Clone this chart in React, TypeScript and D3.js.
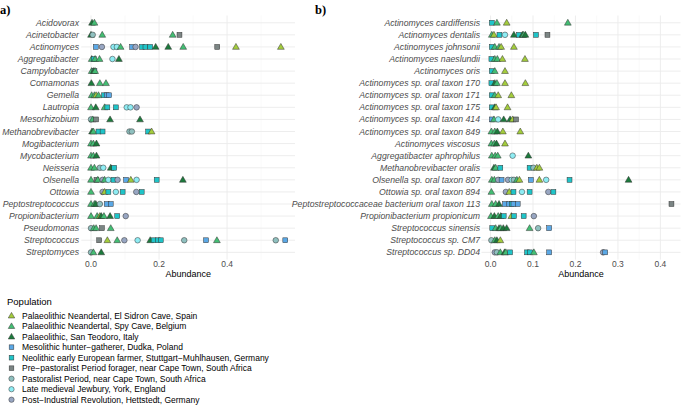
import React from "react";
import * as d3 from "d3";

// Populations (legend order)
const popNames = [
  "Palaeolithic Neandertal, El Sidron Cave, Spain",
  "Palaeolithic Neandertal, Spy Cave, Belgium",
  "Palaeolithic, San Teodoro, Italy",
  "Mesolithic hunter\u2212gatherer, Dudka, Poland",
  "Neolithic early European farmer, Stuttgart\u2212Muhlhausen, Germany",
  "Pre\u2212pastoralist Period forager, near Cape Town, South Africa",
  "Pastoralist Period, near Cape Town, South Africa",
  "Late medieval Jewbury, York, England",
  "Post\u2212Industrial Revolution, Hettstedt, Germany",
];
const popCodes = ["ES", "SP", "ST", "ME", "NE", "PP", "PA", "LM", "PI"];
const popColors = ["#a3cc3c", "#43bd73", "#1c7a3c", "#5aa8e6", "#1fc4c8", "#7b8584", "#8fc0bf", "#8eecf3", "#98a6c2"];
const popShapes = ["tri", "tri", "tri", "sq", "sq", "sq", "ci", "ci", "ci"];

const genusCats = [
  "Acidovorax", "Acinetobacter", "Actinomyces", "Aggregatibacter", "Campylobacter",
  "Comamonas", "Gemella", "Lautropia", "Mesorhizobium", "Methanobrevibacter",
  "Mogibacterium", "Mycobacterium", "Neisseria", "Olsenella", "Ottowia",
  "Peptostreptococcus", "Propionibacterium", "Pseudomonas", "Streptococcus", "Streptomyces",
];

const speciesCats = [
  "Actinomyces cardiffensis", "Actinomyces dentalis", "Actinomyces johnsonii", "Actinomyces naeslundii",
  "Actinomyces oris", "Actinomyces sp. oral taxon 170", "Actinomyces sp. oral taxon 171",
  "Actinomyces sp. oral taxon 175", "Actinomyces sp. oral taxon 414", "Actinomyces sp. oral taxon 849",
  "Actinomyces viscosus", "Aggregatibacter aphrophilus", "Methanobrevibacter oralis",
  "Olsenella sp. oral taxon 807", "Ottowia sp. oral taxon 894",
  "Peptostreptococcaceae bacterium oral taxon 113", "Propionibacterium propionicum",
  "Streptococcus sinensis", "Streptococcus sp. CM7", "Streptococcus sp. DD04",
];

// [category, population code, abundance]
const genusPoints: [string, string, number][] = [
  ["Acidovorax", "ST", 0.003], ["Acidovorax", "SP", 0.01],
  ["Acinetobacter", "ST", 0.0], ["Acinetobacter", "PA", 0.005], ["Acinetobacter", "SP", 0.033], ["Acinetobacter", "SP", 0.24], ["Acinetobacter", "PP", 0.26],
  ["Actinomyces", "ME", 0.014], ["Actinomyces", "PI", 0.032], ["Actinomyces", "LM", 0.066], ["Actinomyces", "LM", 0.076], ["Actinomyces", "SP", 0.087],
  ["Actinomyces", "ME", 0.121], ["Actinomyces", "PI", 0.131], ["Actinomyces", "NE", 0.15], ["Actinomyces", "NE", 0.16], ["Actinomyces", "NE", 0.174],
  ["Actinomyces", "ST", 0.19], ["Actinomyces", "ST", 0.227], ["Actinomyces", "SP", 0.271], ["Actinomyces", "PP", 0.371], ["Actinomyces", "ES", 0.426], ["Actinomyces", "ES", 0.558],
  ["Aggregatibacter", "SP", 0.002], ["Aggregatibacter", "NE", 0.008], ["Aggregatibacter", "SP", 0.012], ["Aggregatibacter", "SP", 0.025], ["Aggregatibacter", "LM", 0.063], ["Aggregatibacter", "ST", 0.082],
  ["Campylobacter", "SP", 0.002], ["Campylobacter", "ME", 0.01], ["Campylobacter", "ST", 0.008], ["Campylobacter", "SP", 0.012],
  ["Comamonas", "ST", 0.001], ["Comamonas", "SP", 0.026], ["Comamonas", "SP", 0.044],
  ["Gemella", "SP", 0.002], ["Gemella", "SP", 0.01], ["Gemella", "ES", 0.015], ["Gemella", "SP", 0.022], ["Gemella", "NE", 0.038], ["Gemella", "ME", 0.046], ["Gemella", "ME", 0.053],
  ["Lautropia", "SP", 0.0], ["Lautropia", "ST", 0.014], ["Lautropia", "SP", 0.04], ["Lautropia", "NE", 0.048], ["Lautropia", "NE", 0.073], ["Lautropia", "LM", 0.105], ["Lautropia", "LM", 0.116], ["Lautropia", "PI", 0.134],
  ["Mesorhizobium", "PA", 0.0], ["Mesorhizobium", "SP", 0.005], ["Mesorhizobium", "PP", 0.015], ["Mesorhizobium", "ST", 0.056], ["Mesorhizobium", "ST", 0.144],
  ["Methanobrevibacter", "ST", 0.003], ["Methanobrevibacter", "SP", 0.007], ["Methanobrevibacter", "NE", 0.022], ["Methanobrevibacter", "NE", 0.034], ["Methanobrevibacter", "PA", 0.113], ["Methanobrevibacter", "PA", 0.12], ["Methanobrevibacter", "NE", 0.168], ["Methanobrevibacter", "ES", 0.178],
  ["Mogibacterium", "SP", 0.0], ["Mogibacterium", "SP", 0.007], ["Mogibacterium", "ST", 0.016],
  ["Mycobacterium", "SP", 0.0], ["Mycobacterium", "SP", 0.007], ["Mycobacterium", "ST", 0.016],
  ["Neisseria", "SP", 0.0], ["Neisseria", "SP", 0.01], ["Neisseria", "PA", 0.026], ["Neisseria", "LM", 0.036], ["Neisseria", "ST", 0.058], ["Neisseria", "NE", 0.068],
  ["Olsenella", "SP", 0.0], ["Olsenella", "PP", 0.016], ["Olsenella", "SP", 0.02], ["Olsenella", "PI", 0.034], ["Olsenella", "SP", 0.04], ["Olsenella", "LM", 0.051], ["Olsenella", "NE", 0.066],
  ["Olsenella", "PI", 0.078], ["Olsenella", "ME", 0.103], ["Olsenella", "ES", 0.117], ["Olsenella", "LM", 0.134], ["Olsenella", "NE", 0.193], ["Olsenella", "ST", 0.27],
  ["Ottowia", "SP", 0.0], ["Ottowia", "PI", 0.034], ["Ottowia", "ES", 0.04], ["Ottowia", "NE", 0.051], ["Ottowia", "LM", 0.073], ["Ottowia", "NE", 0.093], ["Ottowia", "PI", 0.133], ["Ottowia", "NE", 0.149],
  ["Peptostreptococcus", "SP", 0.0], ["Peptostreptococcus", "SP", 0.01], ["Peptostreptococcus", "ST", 0.014], ["Peptostreptococcus", "PA", 0.026], ["Peptostreptococcus", "ME", 0.046], ["Peptostreptococcus", "ME", 0.058],
  ["Propionibacterium", "SP", 0.0], ["Propionibacterium", "SP", 0.018], ["Propionibacterium", "ES", 0.026], ["Propionibacterium", "ST", 0.03], ["Propionibacterium", "SP", 0.038], ["Propionibacterium", "ST", 0.056], ["Propionibacterium", "NE", 0.077], ["Propionibacterium", "PI", 0.102],
  ["Pseudomonas", "PA", 0.0], ["Pseudomonas", "SP", 0.008], ["Pseudomonas", "SP", 0.015], ["Pseudomonas", "PP", 0.032], ["Pseudomonas", "SP", 0.058],
  ["Streptococcus", "PP", 0.024], ["Streptococcus", "ES", 0.048], ["Streptococcus", "SP", 0.077], ["Streptococcus", "PI", 0.098], ["Streptococcus", "LM", 0.137], ["Streptococcus", "ST", 0.174],
  ["Streptococcus", "NE", 0.184], ["Streptococcus", "NE", 0.196], ["Streptococcus", "NE", 0.205], ["Streptococcus", "PA", 0.274], ["Streptococcus", "ME", 0.338], ["Streptococcus", "SP", 0.37],
  ["Streptococcus", "PA", 0.543], ["Streptococcus", "ME", 0.571],
  ["Streptomyces", "PA", 0.0], ["Streptomyces", "SP", 0.007], ["Streptomyces", "ST", 0.03],
];

const speciesPoints: [string, string, number][] = [
  ["Actinomyces cardiffensis", "NE", 0.003], ["Actinomyces cardiffensis", "SP", 0.015], ["Actinomyces cardiffensis", "ES", 0.038], ["Actinomyces cardiffensis", "SP", 0.182],
  ["Actinomyces dentalis", "SP", 0.003], ["Actinomyces dentalis", "ES", 0.008], ["Actinomyces dentalis", "NE", 0.021], ["Actinomyces dentalis", "LM", 0.034], ["Actinomyces dentalis", "ST", 0.055],
  ["Actinomyces dentalis", "NE", 0.067], ["Actinomyces dentalis", "ST", 0.075], ["Actinomyces dentalis", "SP", 0.078], ["Actinomyces dentalis", "ST", 0.082], ["Actinomyces dentalis", "NE", 0.107], ["Actinomyces dentalis", "PP", 0.134],
  ["Actinomyces johnsonii", "NE", 0.003], ["Actinomyces johnsonii", "SP", 0.01], ["Actinomyces johnsonii", "SP", 0.02], ["Actinomyces johnsonii", "ES", 0.025], ["Actinomyces johnsonii", "ES", 0.055],
  ["Actinomyces naeslundii", "NE", 0.002], ["Actinomyces naeslundii", "SP", 0.01], ["Actinomyces naeslundii", "SP", 0.016], ["Actinomyces naeslundii", "ES", 0.028], ["Actinomyces naeslundii", "ES", 0.081],
  ["Actinomyces oris", "NE", 0.003], ["Actinomyces oris", "SP", 0.01], ["Actinomyces oris", "ES", 0.034],
  ["Actinomyces sp. oral taxon 170", "NE", 0.002], ["Actinomyces sp. oral taxon 170", "ST", 0.01], ["Actinomyces sp. oral taxon 170", "SP", 0.015], ["Actinomyces sp. oral taxon 170", "ES", 0.034], ["Actinomyces sp. oral taxon 170", "ES", 0.082],
  ["Actinomyces sp. oral taxon 171", "NE", 0.003], ["Actinomyces sp. oral taxon 171", "SP", 0.01], ["Actinomyces sp. oral taxon 171", "ES", 0.018], ["Actinomyces sp. oral taxon 171", "ES", 0.049],
  ["Actinomyces sp. oral taxon 175", "NE", 0.003], ["Actinomyces sp. oral taxon 175", "ST", 0.01], ["Actinomyces sp. oral taxon 175", "ES", 0.013], ["Actinomyces sp. oral taxon 175", "ES", 0.04],
  ["Actinomyces sp. oral taxon 414", "ME", 0.003], ["Actinomyces sp. oral taxon 414", "SP", 0.008], ["Actinomyces sp. oral taxon 414", "LM", 0.018], ["Actinomyces sp. oral taxon 414", "ST", 0.031],
  ["Actinomyces sp. oral taxon 414", "ST", 0.046], ["Actinomyces sp. oral taxon 414", "ES", 0.052], ["Actinomyces sp. oral taxon 414", "PP", 0.06],
  ["Actinomyces sp. oral taxon 849", "SP", 0.002], ["Actinomyces sp. oral taxon 849", "SP", 0.01], ["Actinomyces sp. oral taxon 849", "ST", 0.016], ["Actinomyces sp. oral taxon 849", "ES", 0.029], ["Actinomyces sp. oral taxon 849", "ES", 0.07],
  ["Actinomyces viscosus", "SP", 0.002], ["Actinomyces viscosus", "SP", 0.009], ["Actinomyces viscosus", "ST", 0.014], ["Actinomyces viscosus", "ES", 0.034],
  ["Aggregatibacter aphrophilus", "SP", 0.003], ["Aggregatibacter aphrophilus", "SP", 0.011], ["Aggregatibacter aphrophilus", "SP", 0.017], ["Aggregatibacter aphrophilus", "LM", 0.052], ["Aggregatibacter aphrophilus", "ST", 0.089],
  ["Methanobrevibacter oralis", "ST", 0.008], ["Methanobrevibacter oralis", "SP", 0.012], ["Methanobrevibacter oralis", "NE", 0.023], ["Methanobrevibacter oralis", "NE", 0.092],
  ["Methanobrevibacter oralis", "PA", 0.101], ["Methanobrevibacter oralis", "ES", 0.109], ["Methanobrevibacter oralis", "ES", 0.115],
  ["Olsenella sp. oral taxon 807", "SP", 0.003], ["Olsenella sp. oral taxon 807", "SP", 0.009], ["Olsenella sp. oral taxon 807", "PI", 0.018], ["Olsenella sp. oral taxon 807", "ME", 0.026],
  ["Olsenella sp. oral taxon 807", "PI", 0.041], ["Olsenella sp. oral taxon 807", "LM", 0.05], ["Olsenella sp. oral taxon 807", "PA", 0.055], ["Olsenella sp. oral taxon 807", "SP", 0.062],
  ["Olsenella sp. oral taxon 807", "ES", 0.068], ["Olsenella sp. oral taxon 807", "ME", 0.095], ["Olsenella sp. oral taxon 807", "ES", 0.115], ["Olsenella sp. oral taxon 807", "LM", 0.131],
  ["Olsenella sp. oral taxon 807", "NE", 0.186], ["Olsenella sp. oral taxon 807", "ST", 0.325],
  ["Ottowia sp. oral taxon 894", "SP", 0.002], ["Ottowia sp. oral taxon 894", "PI", 0.036], ["Ottowia sp. oral taxon 894", "ES", 0.044], ["Ottowia sp. oral taxon 894", "NE", 0.054],
  ["Ottowia sp. oral taxon 894", "LM", 0.074], ["Ottowia sp. oral taxon 894", "NE", 0.092], ["Ottowia sp. oral taxon 894", "PI", 0.136], ["Ottowia sp. oral taxon 894", "NE", 0.148],
  ["Peptostreptococcaceae bacterium oral taxon 113", "SP", 0.003], ["Peptostreptococcaceae bacterium oral taxon 113", "SP", 0.012], ["Peptostreptococcaceae bacterium oral taxon 113", "ST", 0.02],
  ["Peptostreptococcaceae bacterium oral taxon 113", "ME", 0.034], ["Peptostreptococcaceae bacterium oral taxon 113", "ME", 0.044], ["Peptostreptococcaceae bacterium oral taxon 113", "NE", 0.05],
  ["Peptostreptococcaceae bacterium oral taxon 113", "ME", 0.054], ["Peptostreptococcaceae bacterium oral taxon 113", "ME", 0.064], ["Peptostreptococcaceae bacterium oral taxon 113", "PP", 0.426],
  ["Propionibacterium propionicum", "SP", 0.001], ["Propionibacterium propionicum", "ST", 0.009], ["Propionibacterium propionicum", "SP", 0.018], ["Propionibacterium propionicum", "ST", 0.024],
  ["Propionibacterium propionicum", "NE", 0.031], ["Propionibacterium propionicum", "ES", 0.049], ["Propionibacterium propionicum", "NE", 0.055], ["Propionibacterium propionicum", "NE", 0.078], ["Propionibacterium propionicum", "PI", 0.102],
  ["Streptococcus sinensis", "NE", 0.004], ["Streptococcus sinensis", "SP", 0.012], ["Streptococcus sinensis", "ST", 0.02], ["Streptococcus sinensis", "SP", 0.024], ["Streptococcus sinensis", "ST", 0.03],
  ["Streptococcus sinensis", "ST", 0.038], ["Streptococcus sinensis", "SP", 0.092], ["Streptococcus sinensis", "PA", 0.112], ["Streptococcus sinensis", "ME", 0.138],
  ["Streptococcus sp. CM7", "PA", 0.002], ["Streptococcus sp. CM7", "SP", 0.01], ["Streptococcus sp. CM7", "ST", 0.015], ["Streptococcus sp. CM7", "ES", 0.023],
  ["Streptococcus sp. DD04", "PI", 0.01], ["Streptococcus sp. DD04", "PA", 0.015], ["Streptococcus sp. DD04", "SP", 0.023], ["Streptococcus sp. DD04", "ST", 0.033], ["Streptococcus sp. DD04", "SP", 0.036],
  ["Streptococcus sp. DD04", "NE", 0.046], ["Streptococcus sp. DD04", "NE", 0.086], ["Streptococcus sp. DD04", "NE", 0.093], ["Streptococcus sp. DD04", "SP", 0.102],
  ["Streptococcus sp. DD04", "ME", 0.138], ["Streptococcus sp. DD04", "PI", 0.265], ["Streptococcus sp. DD04", "ME", 0.27],
];

const genusTicks = [0, 0.2, 0.4];
const genusMinor = [0.1, 0.3, 0.5];
const speciesTicks = [0, 0.1, 0.2, 0.3, 0.4];
const speciesMinor = [0.05, 0.15, 0.25, 0.35];

const FONT = "'Liberation Sans', Arial, Helvetica, sans-serif";
const STROKE = "#333333";

function Marker({ shape, x, y, fill, scale = 1 }: { shape: string; x: number; y: number; fill: string; scale?: number }) {
  if (shape === "tri") {
    const w = 3.4 * scale, hTop = 3.5 * scale, hBot = 2.4 * scale;
    const d = `M${x},${y - hTop}L${x + w},${y + hBot}L${x - w},${y + hBot}Z`;
    return <path d={d} fill={fill} stroke={STROKE} strokeWidth={0.5} />;
  }
  if (shape === "sq") {
    const s = 4.9 * scale;
    return <rect x={x - s / 2} y={y - s / 2} width={s} height={s} fill={fill} stroke={STROKE} strokeWidth={0.5} />;
  }
  return <circle cx={x} cy={y} r={2.8 * scale} fill={fill} stroke={STROKE} strokeWidth={0.5} />;
}

function Panel({ cats, points, ticks, minor, left, right, labelX, tag, tagX }: {
  cats: string[]; points: [string, string, number][]; ticks: number[]; minor: number[];
  left: number; right: number; labelX: number; tag: string; tagX: number;
}) {
  const top = 15.5, bottom = 259.6;
  const maxV = d3.max(points, (p) => p[2]) as number;
  const pad = maxV * 0.05;
  const x = d3.scaleLinear().domain([-pad, maxV + pad]).range([left, right]);
  const y = d3.scalePoint<string>().domain(cats).range([top, bottom]).padding(0.6);
  const items = points.map((p, i) => ({ p, i, k: popCodes.indexOf(p[1]) }));
  return (
    <g>
      <text x={tagX} y={14} fontFamily="'Liberation Serif', 'Times New Roman', serif" fontWeight="bold" fontSize={12.5} fill="#000">{tag}</text>
      {minor.map((t) => (
        <line key={"mi" + t} x1={x(t)} x2={x(t)} y1={top} y2={bottom} stroke="#f2f2f2" strokeWidth={0.5} />
      ))}
      {ticks.map((t) => (
        <line key={"ma" + t} x1={x(t)} x2={x(t)} y1={top} y2={bottom} stroke="#ebebeb" strokeWidth={0.9} />
      ))}
      {cats.map((c) => (
        <line key={"h" + c} x1={left} x2={right} y1={y(c)} y2={y(c)} stroke="#ebebeb" strokeWidth={0.9} />
      ))}
      {cats.map((c) => (
        <text key={"l" + c} x={labelX} y={y(c)} dy="0.35em" textAnchor="end" fontFamily={FONT}
          fontStyle="italic" fontSize={8.7} fill="#4d4d4d">{c}</text>
      ))}
      {ticks.map((t) => (
        <text key={"t" + t} x={x(t)} y={264.5} dy="0.35em" textAnchor="middle" fontFamily={FONT} fontSize={8.5} fill="#4d4d4d">{d3.format(".1f")(t)}</text>
      ))}
      <text x={(left + right) / 2} y={274} dy="0.35em" textAnchor="middle" fontFamily={FONT} fontSize={9} fill="#000">Abundance</text>
      {items.map(({ p, i, k }) => (
        <Marker key={i} shape={popShapes[k]} x={x(p[2])} y={y(p[0]) as number} fill={popColors[k]} />
      ))}
    </g>
  );
}

export default function App() {
  return (
    <svg width={682} height={406} style={{ position: "absolute", left: 0, top: 0, background: "#fff" }}>
      <rect width={682} height={406} fill="#fff" />
      <Panel cats={genusCats} points={genusPoints} ticks={genusTicks} minor={genusMinor}
        left={81.3} right={295} labelX={79} tag="a)" tagX={0} />
      <Panel cats={speciesCats} points={speciesPoints} ticks={speciesTicks} minor={speciesMinor}
        left={481.5} right={680.5} labelX={480} tag="b)" tagX={315} />
      <text x={7} y={302} dy="0.35em" fontFamily={FONT} fontSize={9.5} fill="#000">Population</text>
      {popNames.map((n, i) => (
        <g key={n}>
          <Marker shape={popShapes[i]} x={11.5} y={315.7 + i * 10.5} fill={popColors[i]} scale={0.95} />
          <text x={22} y={315.7 + i * 10.5} dy="0.35em" fontFamily={FONT} fontSize={8.5} fill="#000">{n}</text>
        </g>
      ))}
    </svg>
  );
}
